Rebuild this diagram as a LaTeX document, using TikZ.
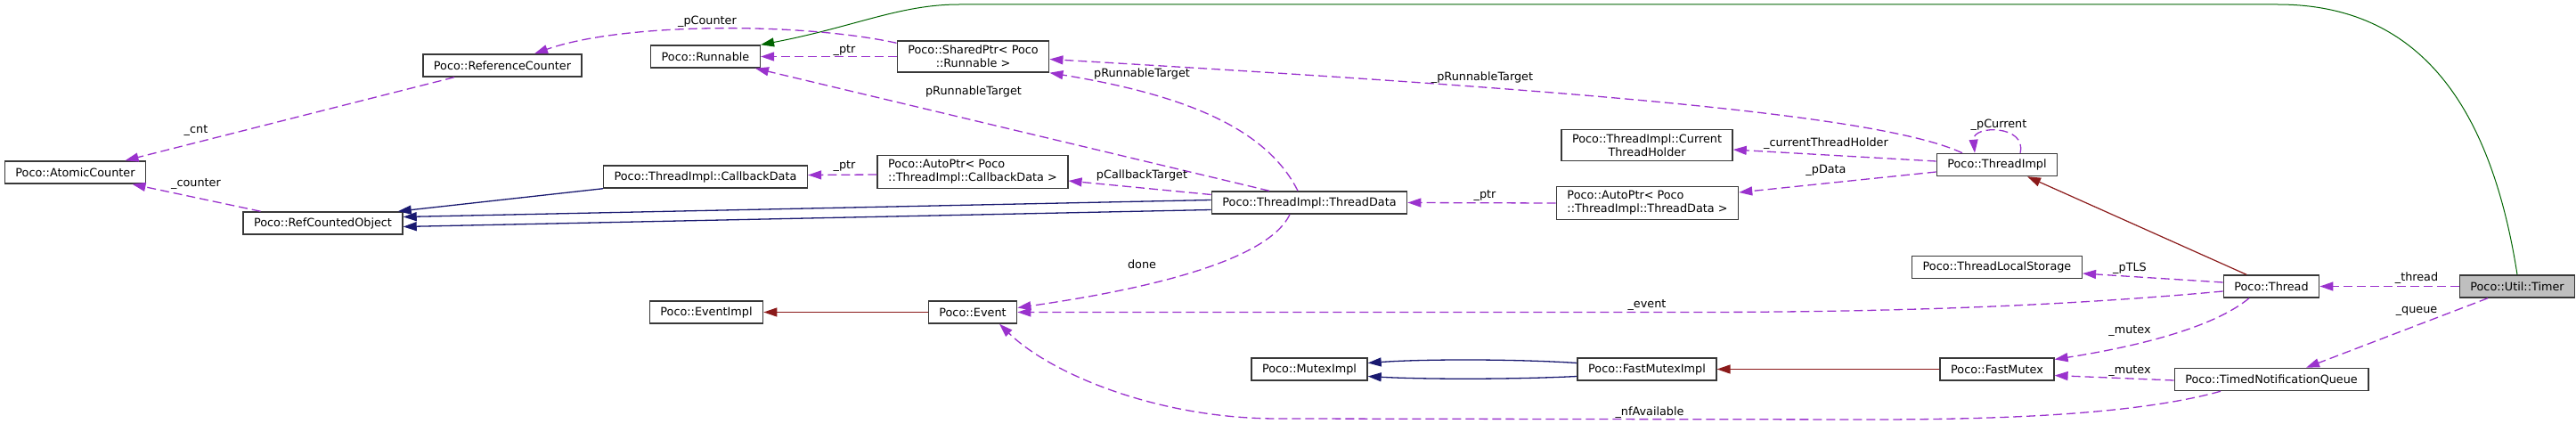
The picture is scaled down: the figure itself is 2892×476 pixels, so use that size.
\documentclass[tikz,border=0pt]{standalone}
\usepackage{fontspec}
\setmainfont{DejaVu Sans}
\usetikzlibrary{arrows.meta}
\usepackage{xcolor}
\definecolor{usecol}{HTML}{9A32CD}
\definecolor{pubcol}{HTML}{191970}
\definecolor{privcol}{HTML}{8B1A1A}
\definecolor{protcol}{HTML}{006400}
\definecolor{selcol}{HTML}{BFBFBF}
\tikzset{
  box/.style     = {rectangle, draw=black!78, line width=1.5pt, fill=white,
                    align=center, inner xsep=12pt, inner ysep=5pt,
                    minimum height=25pt, font=\fontsize{12.8}{15}\selectfont},
  lbox/.style    = {box, align=left},
  lbl/.style     = {inner sep=1pt, font=\fontsize{12.8}{15}\selectfont},
  uses/.style    = {-{Triangle[length=15pt,width=10pt]}, usecol, line width=1.3pt,
                    dash pattern=on 10pt off 5pt},
  pubinh/.style  = {-{Triangle[length=15pt,width=10pt]}, pubcol, line width=1.3pt},
  privinh/.style = {-{Triangle[length=15pt,width=10pt]}, privcol, line width=1.2pt},
  protinh/.style = {-{Triangle[length=15pt,width=10pt]}, protcol, line width=1pt},
}

\begin{document}
\begin{tikzpicture}[x=1pt,y=-1pt]
    \useasboundingbox (0,0) rectangle (2892,476);
    % nodes
    \node[box] (atomic)     at (84.5,193.5)  {Poco::AtomicCounter};
    \node[box] (refcounter) at (564,73.5)    {Poco::ReferenceCounter};
    \node[box] (refcounted) at (362.5,250.5) {Poco::RefCountedObject};
    \node[box] (runnable)   at (792,63.5)    {Poco::Runnable};
    \node[box] (callback)   at (792,198.5)   {Poco::ThreadImpl::CallbackData};
    \node[box] (eventimpl)  at (793,350.5)   {Poco::EventImpl};
    \node[box] (sharedptr)  at (1092.5,63.5) {Poco::SharedPtr< Poco\\::Runnable >};
    \node[lbox] (autocb)    at (1092,193)    {Poco::AutoPtr< Poco\\::ThreadImpl::CallbackData >};
    \node[box] (event)      at (1092,350.5)  {Poco::Event};
    \node[box] (threaddata) at (1470,227.5)  {Poco::ThreadImpl::ThreadData};
    \node[box] (mutex)      at (1470,414.5)  {Poco::MutexImpl};
    \node[box] (cth)        at (1849,163)    {Poco::ThreadImpl::Current\\ThreadHolder};
    \node[lbox] (autotd)    at (1849.5,228)  {Poco::AutoPtr< Poco\\::ThreadImpl::ThreadData >};
    \node[box] (fmimpl)     at (1849,414.5)  {Poco::FastMutexImpl};
    \node[box] (threadimpl) at (2242,185)    {Poco::ThreadImpl};
    \node[box] (tls)        at (2242,300)    {Poco::ThreadLocalStorage};
    \node[box] (fastmutex)  at (2242,414.5)  {Poco::FastMutex};
    \node[box] (thread)     at (2550,321.5)  {Poco::Thread};
    \node[box] (tnq)        at (2550,426)    {Poco::TimedNotificationQueue};
    \node[box,fill=selcol] (timer) at (2826,321.5) {Poco::Util::Timer};
    % inheritance
    \draw[protinh] (timer.north) .. controls (2795,110) and (2710,5) .. (2557,5)
      -- (1077,5) .. controls (1010,5) and (960,30) .. (runnable.north east);
    \draw[privinh] ([xshift=-28pt]thread.north) -- ([xshift=34pt]threadimpl.south);
    \draw[privinh] (fastmutex.west) -- (fmimpl.east);
    \draw[privinh] (event.west) -- (eventimpl.east);
    \draw[pubinh] ([yshift=7pt]fmimpl.west) .. controls (1700,403) and (1600,403) .. ([yshift=7pt]mutex.east);
    \draw[pubinh] ([yshift=-8pt]fmimpl.west) .. controls (1700,426) and (1600,426) .. ([yshift=-8pt]mutex.east);
    \draw[pubinh] (callback.south west) -- ([xshift=-6pt]refcounted.north east);
    \draw[pubinh] ([yshift=3pt]threaddata.west) -- ([yshift=7pt]refcounted.east);
    \draw[pubinh] ([yshift=-8pt]threaddata.west) -- ([yshift=-4pt]refcounted.east);
    % members
    \draw[uses] (timer.west) -- (thread.east);
    \draw[uses] ([xshift=-33pt]timer.south) -- ([xshift=39pt]tnq.north);
    \draw[uses] ([yshift=4.5pt]thread.west) -- ([yshift=-7pt]tls.east);
    \draw[uses] ([yshift=-5.5pt]thread.west) .. controls (2300,345) and (2100,350.5) .. (1900,350.5)
      -- (event.east);
    \draw[uses] ([xshift=-25pt]thread.south) .. controls (2480,372) and (2380,392) .. ([yshift=11pt]fastmutex.east);
    \draw[uses] ([yshift=-1pt]tnq.west) -- ([yshift=-7pt]fastmutex.east);
    \draw[uses] ([xshift=-57pt]tnq.south) .. controls (2400,465) and (2250,471) .. (2100,471)
      -- (1435,470) .. controls (1300,470) and (1180,420) .. ([xshift=30pt]event.south);
    \draw[uses] ([xshift=26pt]threadimpl.north) .. controls (2276,140) and (2214,140) .. ([xshift=-25pt]threadimpl.north);
    \draw[uses] ([yshift=4pt]threadimpl.west) -- ([yshift=-5pt]cth.east);
    \draw[uses] ([yshift=-8pt]threadimpl.west) -- ([yshift=12pt]autotd.east);
    \draw[uses] ([xshift=-39pt]threadimpl.north) .. controls (2110,128) and (1750,100) .. ([yshift=-3pt]sharedptr.east);
    \draw[uses] (autotd.west) -- (threaddata.east);
    \draw[uses] ([xshift=-22pt]threaddata.south) .. controls (1420,300) and (1250,330) .. ([yshift=5pt]event.east);
    \draw[uses] ([xshift=-45pt]threaddata.north) -- ([xshift=56pt]runnable.south);
    \draw[uses] ([xshift=-13pt]threaddata.north) .. controls (1420,140) and (1320,105) .. (sharedptr.south east);
    \draw[uses] ([yshift=9pt]threaddata.west) -- ([yshift=-10pt]autocb.east);
    \draw[uses] ([yshift=-3pt]autocb.west) -- ([yshift=2pt]callback.east);
    \draw[uses] (sharedptr.west) -- (runnable.east);
    \draw[uses] ([yshift=-3pt]sharedptr.north west) .. controls (900,25) and (700,25) .. ([xshift=36pt]refcounter.north);
    \draw[uses] ([xshift=-54pt]refcounter.south) -- ([xshift=56pt]atomic.north);
    \draw[uses] ([xshift=-70pt]refcounted.north) -- ([xshift=64pt]atomic.south);
    % member labels
    \node[lbl] (l-pcounter) at (794,24)    {\_pCounter};
    \node[lbl] (l-ptrsp)    at (948,57)    {\_ptr};
    \node[lbl] (l-prtrun)   at (1093,103)  {pRunnableTarget};
    \node[lbl] (l-prtsp)    at (1282,83)   {pRunnableTarget};
    \node[lbl] (l-uprt)     at (1664,87)   {\_pRunnableTarget};
    \node[lbl] (l-cth)      at (2050,161)  {\_currentThreadHolder};
    \node[lbl] (l-pdata)    at (2050,191)  {\_pData};
    \node[lbl] (l-pcurrent) at (2244,140)  {\_pCurrent};
    \node[lbl] (l-ptrtd)    at (1667,220)  {\_ptr};
    \node[lbl] (l-pcbt)     at (1282,197)  {pCallbackTarget};
    \node[lbl] (l-ptrcb)    at (948,187)   {\_ptr};
    \node[lbl] (l-cnt)      at (220,147)   {\_cnt};
    \node[lbl] (l-counter)  at (220,207)   {\_counter};
    \node[lbl] (l-done)     at (1282,297)  {done};
    \node[lbl] (l-event)    at (1849,343)  {\_event};
    \node[lbl] (l-ptls)     at (2391,301)  {\_pTLS};
    \node[lbl] (l-thread)   at (2713,312)  {\_thread};
    \node[lbl] (l-queue)    at (2713,349)  {\_queue};
    \node[lbl] (l-mutexth)  at (2391,372)  {\_mutex};
    \node[lbl] (l-mutexq)   at (2391,417)  {\_mutex};
    \node[lbl] (l-nfavail)  at (1852,463)  {\_nfAvailable};
\end{tikzpicture}
\end{document}
